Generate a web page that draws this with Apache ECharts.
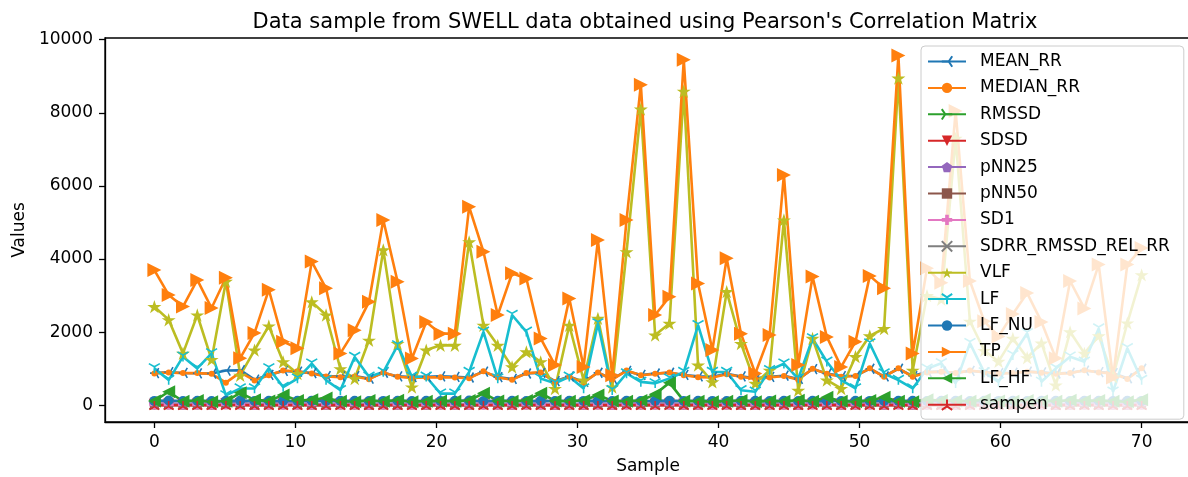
<!DOCTYPE html>
<html>
<head>
<meta charset="utf-8">
<script src="https://cdn.jsdelivr.net/npm/echarts@6/dist/echarts.min.js"></script>
<style>
  html, body { margin: 0; padding: 0; background: #fff; }
  #chart { width: 1188px; height: 477px; }
</style>
</head>
<body>
<div id="chart"></div>
<script>
// 70 samples spread evenly over 0..70 on the x axis
var samples = Array.from({length: 70}, function (_, k) { return k * 70 / 69; });

var meanRR = [880,905,885,875,870,950,960,700,830,940, 920,880,800,790,800,730,890,790,770,780,
  790,780,760,920,770,720,870,890,660,790, 640,890,720,940,830,870,890,830,790,780,
  860,790,740,780,810,720,990,870,800,810, 1000,790,1000,800,910,920,890,940,910,880,
  890,920,900,870,890,950,910,880,740,1000];
var medianRR = [870,900,880,880,860,620,900,680,820,950, 930,870,790,770,790,710,900,780,750,760,
  770,760,740,930,760,700,880,900,640,780, 620,900,700,950,820,860,900,820,770,760,
  850,780,720,760,800,700,1000,860,780,800, 1010,780,1010,780,900,920,880,950,900,870,
  880,920,890,860,880,960,900,870,720,1010];
var rmssd = [30,35,28,32,30,40,38,26,31,36, 33,29,27,34,30,25,31,28,30,27, 32,29,26,35,30,28,33,31,24,29,
  27,34,26,36,30,31,33,29,28,30, 32,27,26,30,31,25,37,32,28,30, 36,28,38,27,33,32,30,35,31,29,
  30,33,31,29,30,34,32,30,26,36];
var sdsd = [31,36,29,33,31,41,39,27,32,37, 34,30,28,35,31,26,32,29,31,28, 33,30,27,36,31,29,34,32,25,30,
  28,35,27,37,31,32,34,30,29,31, 33,28,27,31,32,26,38,33,29,31, 37,29,39,28,34,33,31,36,32,30,
  31,34,32,30,31,35,33,31,27,37];
var pnn25 = [40,48,35,44,38,55,50,30,42,46, 44,38,34,45,40,30,42,36,40,33, 43,38,32,47,40,35,44,41,28,37,
  34,45,31,48,40,41,44,38,36,39, 42,34,32,39,41,30,50,42,36,39, 48,35,52,34,44,43,39,47,41,38,
  39,44,41,37,39,45,42,39,32,48];
var pnn50 = [8,12,6,10,7,16,13,4,9,11, 10,7,5,11,8,4,9,6,8,5, 10,7,5,12,8,6,10,9,3,7,
  5,11,4,13,8,9,10,7,6,7, 9,5,4,7,9,4,14,9,6,7, 13,6,15,5,10,9,7,12,9,7,
  7,10,9,6,7,11,9,7,4,13];
var sd1 = [21,25,20,23,21,28,27,18,22,25, 23,21,19,24,21,18,22,20,21,19, 23,21,18,25,21,20,23,22,17,21,
  19,24,18,25,21,22,23,21,20,21, 23,19,18,21,22,18,26,23,20,21, 25,20,27,19,23,23,21,25,22,21,
  21,23,22,20,21,24,23,21,18,25];
var sdrr = [12,14,11,13,12,15,15,10,12,14, 13,12,11,13,12,10,12,11,12,11, 13,12,10,14,12,11,13,12,10,11,
  11,13,10,14,12,12,13,12,11,12, 13,11,10,12,12,10,14,13,11,12, 14,11,15,11,13,13,12,14,12,12,
  12,13,12,11,12,13,13,12,10,14];
var vlf = [2700,2340,1420,2470,1250,3390,820,1510,2170,1190, 870,2830,2470,1000,730,1780,4250,1690,500,1510,
  1640,1640,4470,2190,1640,1050,1460,1190,460,2190, 690,2380,500,4200,8100,1920,2240,8590,1100,640,
  3110,1690,600,960,5070,410,1830,690,460,1330, 1900,2100,8950,960,3000,2900,7300,2300,1500,1200,
  1830,1300,1700,550,2010,1420,1900,780,2250,3570];
var lf = [1010,690,1330,1010,1420,270,460,460,1010,500, 730,1140,690,410,1320,780,910,1640,780,780,
  320,320,910,2010,730,2470,2010,730,600,780, 460,2240,410,870,640,600,730,910,2190,910,
  910,410,370,960,1140,730,1830,1190,690,460, 1690,870,690,460,1000,1150,600,1700,900,640,
  1370,1970,640,1010,1330,1190,2100,370,1560,690];
var lfNU = [120,130,115,125,118,122,128,116,124,119, 121,127,117,123,126,118,120,125,119,122,
  116,124,128,117,121,123,119,126,118,122, 120,125,117,124,119,121,127,118,123,120,
  116,125,122,119,124,118,121,126,117,123, 120,119,124,122,118,125,121,117,123,120,
  126,119,122,124,118,121,125,117,123,120];
var tp = [3700,3020,2700,3430,2660,3490,1290,1980,3160,1740, 1560,3930,3200,1420,2050,2830,5070,3380,1280,2280,
  1960,1960,5430,4200,2470,3610,3470,1830,1100,2920, 1050,4520,820,5070,8770,2470,2970,9450,3330,1510,
  4020,1960,870,1920,6300,1100,3520,1870,1050,1740, 3540,3200,9570,1420,3750,3350,8050,3400,2300,1880,
  2500,3070,2280,1290,3400,2650,3850,760,3850,4300];
var lfHF = [120,370,110,130,100,110,340,150,120,280, 130,150,200,110,100,130,110,140,100,110,
  120,110,130,330,120,110,130,330,120,110, 130,280,120,110,130,300,620,120,110,100,
  110,130,100,120,110,140,110,220,110,100, 130,220,110,100,150,130,120,110,160,120,
  110,130,120,110,140,120,130,110,100,150];
var sampen = [2,2,2,2,2,2,2,2,2,2, 2,2,2,2,2,2,2,2,2,2, 2,2,2,2,2,2,2,2,2,2,
  2,2,2,2,2,2,2,2,2,2, 2,2,2,2,2,2,2,2,2,2, 2,2,2,2,2,2,2,2,2,2,
  2,2,2,2,2,2,2,2,2,2];

var yTicks = [0, 2000, 4000, 6000, 8000, 10000];
var xTicks = [0, 10, 20, 30, 40, 50, 60, 70];

// marker shapes (matplotlib look-alikes)
var STAR = 'path://M0 -10 L2.245 -3.09 L9.51 -3.09 L3.63 1.18 L5.88 8.09 L0 3.82 L-5.88 8.09 L-3.63 1.18 L-9.51 -3.09 L-2.245 -3.09 Z';
var PENT = 'path://M0 -10 L9.51 -3.09 L5.88 8.09 L-5.88 8.09 L-9.51 -3.09 Z';
var PLUS = 'path://M-3.5 -10 L3.5 -10 L3.5 -3.5 L10 -3.5 L10 3.5 L3.5 3.5 L3.5 10 L-3.5 10 L-3.5 3.5 L-10 3.5 L-10 -3.5 L-3.5 -3.5 Z';
var XMARK = 'path://M-10 -10 L10 10 M-10 10 L10 -10';
var TRI_DOWN = 'path://M0 0 L0 10 M0 0 L-8.66 -5 M0 0 L8.66 -5';
var TRI_UP = 'path://M0 0 L0 -10 M0 0 L-8.66 5 M0 0 L8.66 5';
var TRI_LEFT = 'path://M0 0 L-10 0 M0 0 L5 -8.66 M0 0 L5 8.66';
var TRI_RIGHT = 'path://M0 0 L10 0 M0 0 L-5 -8.66 M0 0 L-5 8.66';

function pts(arr) {
  return arr.map(function (v, i) { return [samples[i], v]; });
}

function mk(name, arr, color, symbol, size, opts) {
  opts = opts || {};
  return {
    name: name,
    type: 'line',
    data: pts(arr),
    color: color,
    symbol: symbol,
    symbolSize: size,
    symbolRotate: opts.rotate || 0,
    symbolKeepAspect: true,
    showAllSymbol: true,
    lineStyle: { width: 2.6, color: color },
    itemStyle: opts.stroke
      ? { color: color, borderColor: color, borderWidth: 1.6 }
      : { color: color, borderWidth: 0 },
    emphasis: { disabled: true },
    animation: false
  };
}

var series = [
  mk('MEAN_RR', meanRR, '#1f77b4', TRI_LEFT, 10, {stroke: true}),
  mk('MEDIAN_RR', medianRR, '#ff7f0e', 'circle', 6),
  mk('RMSSD', rmssd, '#2ca02c', TRI_RIGHT, 10, {stroke: true}),
  mk('SDSD', sdsd, '#d62728', 'triangle', 11, {rotate: 180}),
  mk('pNN25', pnn25, '#9467bd', PENT, 11),
  mk('pNN50', pnn50, '#8c564b', 'rect', 9),
  mk('SD1', sd1, '#e377c2', PLUS, 10),
  mk('SDRR_RMSSD_REL_RR', sdrr, '#7f7f7f', XMARK, 9, {stroke: true}),
  mk('VLF', vlf, '#bcbd22', STAR, 14),
  mk('LF', lf, '#17becf', TRI_DOWN, 11, {stroke: true}),
  mk('LF_NU', lfNU, '#1f77b4', 'circle', 10),
  mk('TP', tp, '#ff7f0e', 'triangle', 14, {rotate: -90}),
  mk('LF_HF', lfHF, '#2ca02c', 'triangle', 13, {rotate: 90}),
  mk('sampen', sampen, '#d62728', TRI_UP, 10, {stroke: true})
];

var chart = echarts.init(document.getElementById('chart'), null, {renderer: 'canvas'});
chart.setOption({
  animation: false,
  backgroundColor: '#ffffff',
  title: {
    text: "Data sample from SWELL data obtained using Pearson's Correlation Matrix",
    left: 640, top: 7, textAlign: 'center',
    textStyle: { fontFamily: 'DejaVu Sans', fontSize: 21, fontWeight: 'normal', color: '#000' }
  },
  grid: {
    left: 105, right: -3, top: 38, bottom: 55,
    outerBoundsMode: 'none',
    containLabel: false,
    show: true, borderColor: '#000', borderWidth: 1.3, backgroundColor: 'transparent'
  },
  legend: {
    orient: 'vertical',
    left: 921, top: 46,
    padding: [7, 14, 6, 6],
    itemWidth: 38, itemHeight: 13, itemGap: 9.4,
    backgroundColor: 'rgba(255,255,255,0.8)',
    borderColor: '#cccccc', borderWidth: 1, borderRadius: 4,
    textStyle: { fontFamily: 'DejaVu Sans', fontSize: 17, color: '#000', padding: [0, 0, 0, 9] },
    selectedMode: false,
    data: series.map(function (s) { return s.name; })
  },
  xAxis: {
    type: 'value', min: -3.5, max: 73.5, splitNumber: 7,
    name: 'Sample', nameLocation: 'middle', nameGap: 36,
    nameTextStyle: { fontFamily: 'DejaVu Sans', fontSize: 17, color: '#000' },
    axisLine: { show: true, onZero: false, lineStyle: { color: '#000', width: 1.3 } },
    axisTick: { show: true, length: 6, lineStyle: { color: '#000', width: 1.3 } },
    axisLabel: {
      fontFamily: 'DejaVu Sans', fontSize: 17, color: '#000', margin: 12,
      showMinLabel: false, showMaxLabel: false,
      formatter: function (v) { return xTicks.indexOf(v) >= 0 ? String(v) : ''; }
    },
    splitLine: { show: false }
  },
  yAxis: {
    type: 'value', min: -457, max: 10047, splitNumber: 5,
    name: 'Values', nameLocation: 'middle', nameGap: 76, nameRotate: 90,
    nameTextStyle: { fontFamily: 'DejaVu Sans', fontSize: 17, color: '#000' },
    axisLine: { show: true, onZero: false, lineStyle: { color: '#000', width: 1.3 } },
    axisTick: { show: true, length: 6, lineStyle: { color: '#000', width: 1.3 } },
    axisLabel: {
      fontFamily: 'DejaVu Sans', fontSize: 17, color: '#000', margin: 12,
      showMinLabel: false, showMaxLabel: false,
      formatter: function (v) { return yTicks.indexOf(v) >= 0 ? String(v) : ''; }
    },
    splitLine: { show: false }
  },
  series: series
});
</script>
</body>
</html>
